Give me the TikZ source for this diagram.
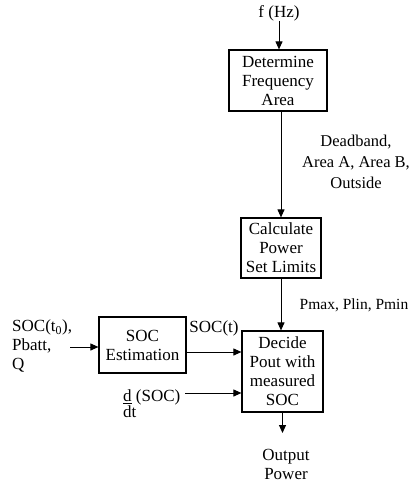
\documentclass[tikz,border=0pt]{standalone}
\usepackage{fontspec}
\setmainfont{Liberation Serif}
\usetikzlibrary{arrows.meta,positioning}
\tikzset{
  blk/.style={draw,line width=1.2pt,align=center,inner sep=2pt},
  lbl/.style={align=center,inner sep=0pt},
  flow/.style={-{Triangle[length=8pt,width=7pt]},line width=1pt}
}

\begin{document}
\begin{tikzpicture}[x=1pt,y=-1pt,font=\fontsize{17}{19}\selectfont]
  \useasboundingbox (0,0) rectangle (411,482);
  % blocks
  \node[lbl] (fhz) at (279,13) {f (Hz)};
  \node[blk,minimum width=98pt,minimum height=61pt] (det) at (278,80.5) {Determine\\Frequency\\Area};
  \node[blk,minimum width=80pt,minimum height=60pt] (calc) at (281,248) {Calculate\\Power\\Set Limits};
  \node[blk,minimum width=87pt,minimum height=56pt] (soc) at (142.5,345) {SOC\\Estimation};
  \node[blk,minimum width=81pt,minimum height=81pt] (dec) at (282.5,371.5) {Decide\\Pout with\\measured\\SOC};
  % labels
  \node[lbl,font=\fontsize{16.5}{21}\selectfont] (area) at (356,162) {Deadband,\\Area A, Area B,\\Outside};
  \node[lbl,font=\fontsize{15.5}{19}\selectfont] (lim) at (354,305) {Pmax, Plin, Pmin};
  \node[lbl,align=left,anchor=west] (inp) at (12,346) {SOC(t\textsubscript{0}),\\Pbatt,\\Q};
  \node[lbl] (soct) at (214,328) {SOC(t)};
  \node[lbl,align=left,anchor=west] (dsoc) at (123,404) {\underline{d} (SOC)\\[-3pt]dt};
  \node[lbl] (out) at (286,464) {Output\\Power};
  \coordinate (inpout) at (70,347);
  \coordinate (socout) at ([yshift=-7pt]soc.east);
  \coordinate (dsocout) at (185,393);
  \coordinate (outend) at (282.5,433);
  % connectors
  \draw[flow] (fhz) -- (fhz |- det.north);
  \draw[flow] (det.south -| calc.north) -- (calc.north);
  \draw[flow] (calc.south) -- (calc.south |- dec.north);
  \draw[flow] (inpout) -- (inpout -| soc.west);
  \draw[flow] (socout) -- (socout -| dec.west);
  \draw[flow] (dsocout) -- (dsocout -| dec.west);
  \draw[flow] (dec.south) -- (outend);
\end{tikzpicture}
\end{document}
